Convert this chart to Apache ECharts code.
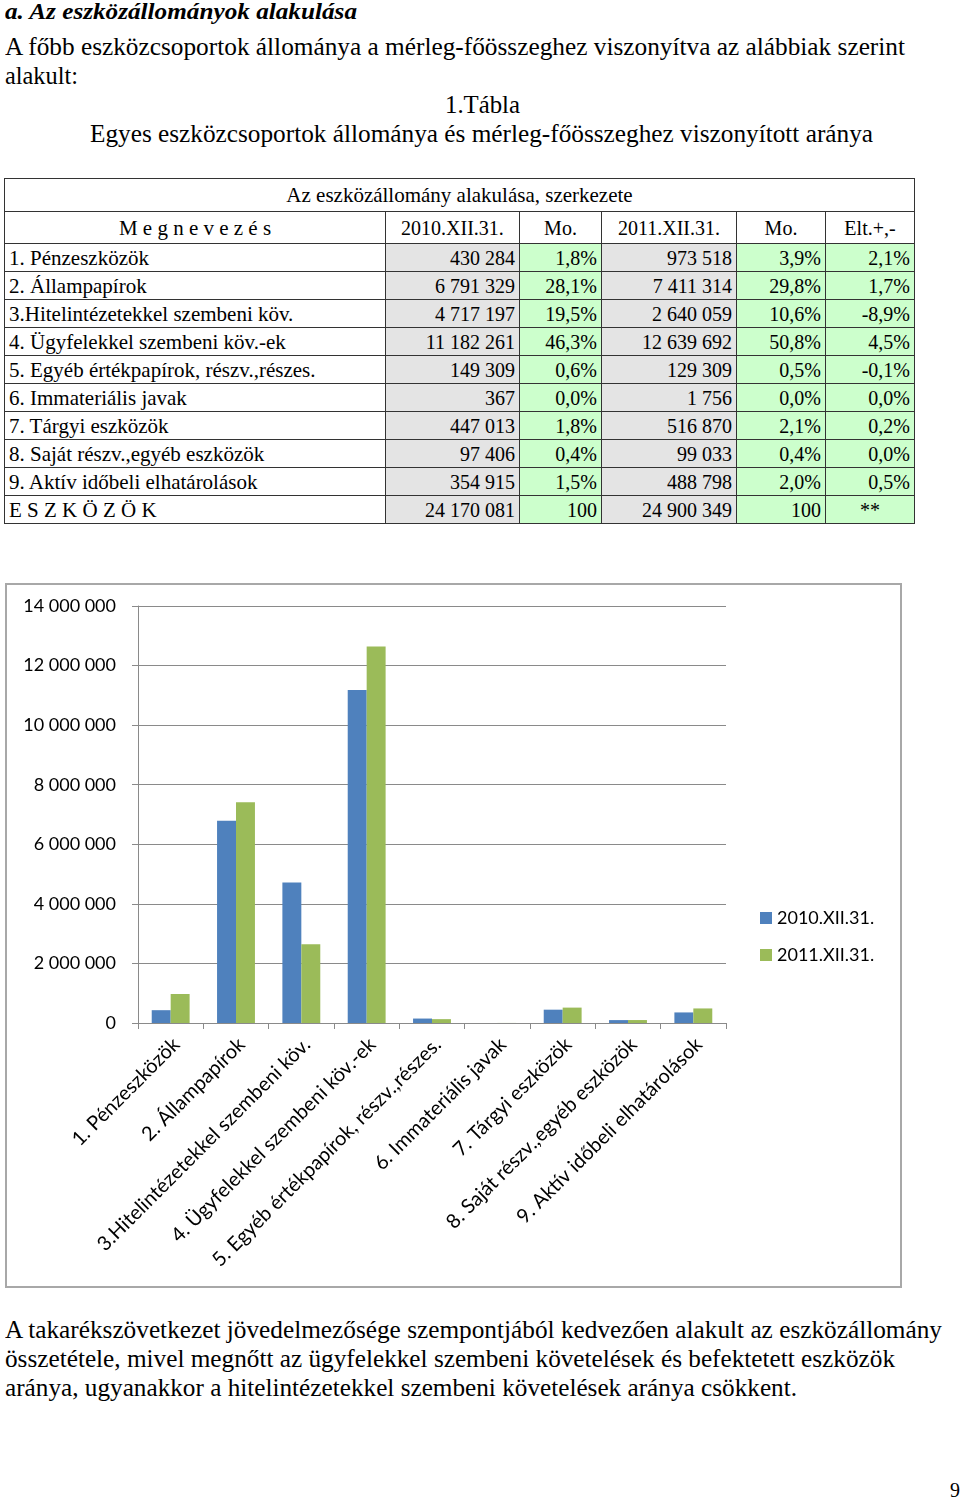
<!DOCTYPE html>
<html><head><meta charset="utf-8">
<script src="https://cdn.jsdelivr.net/npm/echarts@6/dist/echarts.min.js"></script>
<style>
html,body{margin:0;padding:0;background:#fff;}
body{width:960px;height:1499px;position:relative;overflow:hidden;font-family:"Liberation Serif","Times New Roman",serif;color:#000;}
.ln{position:absolute;white-space:nowrap;line-height:30px;height:30px;font-size:25px;transform-origin:0 50%;}
table.t{position:absolute;left:4px;top:178px;border-collapse:collapse;table-layout:fixed;font-size:20px;}
table.t td{border:1px solid #333;padding:0 4px;white-space:nowrap;overflow:hidden;line-height:20px;}
td.g{background:#e4e4e4;text-align:right;}
td.n{background:#ccffcc;text-align:right;}
td.c{text-align:center;}
td.lbl{padding-left:9px;font-size:21px;}
#chart{position:absolute;left:5px;top:583px;width:897px;height:705px;border:2px solid #a8a8a8;box-sizing:border-box;}
</style></head>
<body>
<div id="texts"></div>
<table class="t" id="tbl"></table>
<div id="chart"></div>
<script>
// ---- data ----
const categories = ["1. Pénzeszközök","2. Állampapírok","3.Hitelintézetekkel szembeni köv.","4. Ügyfelekkel szembeni köv.-ek","5. Egyéb értékpapírok, részv.,részes.","6. Immateriális javak","7. Tárgyi eszközök","8. Saját részv.,egyéb eszközök","9. Aktív időbeli elhatárolások"];
const seriesNames = ["2010.XII.31.","2011.XII.31."];
const values2010 = [430284,6791329,4717197,11182261,149309,367,447013,97406,354915];
const values2011 = [973518,7411314,2640059,12639692,129309,1756,516870,99033,488798];
const share2010 = ["1,8%","28,1%","19,5%","46,3%","0,6%","0,0%","1,8%","0,4%","1,5%"];
const share2011 = ["3,9%","29,8%","10,6%","50,8%","0,5%","0,0%","2,1%","0,4%","2,0%"];
const diffs = ["2,1%","1,7%","-8,9%","4,5%","-0,1%","0,0%","0,2%","0,0%","0,5%"];
const totalLabel = "E S Z K Ö Z Ö K";
const total2010 = 24170081, total2011 = 24900349;
const yTicks = [0,2000000,4000000,6000000,8000000,10000000,12000000,14000000];

function fmt(v){return String(v).replace(/\B(?=(\d{3})+(?!\d))/g,' ');}

// ---- text lines ----
const lines = [
 {t:"a. Az eszközállományok alakulása", x:5, y:12, w:352, st:"font-weight:bold;font-style:italic;font-size:23px;"},
 {t:"A főbb eszközcsoportok állománya a mérleg-főösszeghez viszonyítva az alábbiak szerint", x:5, y:47, w:900},
 {t:"alakult:", x:5, y:76, w:73},
 {t:"1.Tábla", x:445, y:105, w:75},
 {t:"Egyes eszközcsoportok állománya és mérleg-főösszeghez viszonyított aránya", x:90, y:134, w:783},
 {t:"A takarékszövetkezet jövedelmezősége szempontjából kedvezően alakult az eszközállomány", x:5, y:1330, w:937},
 {t:"összetétele, mivel megnőtt az ügyfelekkel szembeni követelések és befektetett eszközök", x:5, y:1359, w:890},
 {t:"aránya, ugyanakkor a hitelintézetekkel szembeni követelések aránya csökkent.", x:5, y:1388, w:792},
 {t:"9", x:950, y:1490, w:10, st:"font-size:22px;"}
];
const tc = document.getElementById('texts');
lines.forEach(l=>{
  const d=document.createElement('div');d.className='ln';d.textContent=l.t;
  d.style.cssText += (l.st||'') + 'left:'+l.x+'px;top:'+(l.y-15)+'px;';
  tc.appendChild(d);
  const w=d.getBoundingClientRect().width;
  d.style.transform='scaleX('+(l.w/w)+')';
});

// ---- table ----
const colW=[381,134,82,135,89,89];
const tbl=document.getElementById('tbl');
let h='<colgroup>'+colW.map(w=>'<col style="width:'+w+'px">').join('')+'</colgroup>';
h+='<tr style="height:33px"><td colspan="6" class="c" style="font-size:21px">Az eszközállomány alakulása, szerkezete</td></tr>';
h+='<tr style="height:32px"><td class="c" style="font-size:21px">M e g n e v e z é s</td><td class="c">2010.XII.31.</td><td class="c">Mo.</td><td class="c">2011.XII.31.</td><td class="c">Mo.</td><td class="c">Elt.+,-</td></tr>';
categories.forEach((c,i)=>{
  h+='<tr style="height:28px"><td class="lbl">'+c+'</td><td class="g">'+fmt(values2010[i])+'</td><td class="n">'+share2010[i]+'</td><td class="g">'+fmt(values2011[i])+'</td><td class="n">'+share2011[i]+'</td><td class="n">'+diffs[i]+'</td></tr>';
});
h+='<tr style="height:28px"><td class="lbl">'+totalLabel+'</td><td class="g">'+fmt(total2010)+'</td><td class="n">100</td><td class="g">'+fmt(total2011)+'</td><td class="n">100</td><td class="n" style="text-align:center">**</td></tr>';
tbl.innerHTML=h;

// ---- chart ----
const chart=echarts.init(document.getElementById('chart'));
const F='Lato, "Open Sans", sans-serif';
chart.setOption({
  animation:false,
  textStyle:{fontFamily:F},
  grid:{left:131,top:21,width:588,height:417,containLabel:false},
  legend:{orient:'vertical',left:748,top:319,itemWidth:12,itemHeight:12,itemGap:19,icon:'rect',
    textStyle:{fontSize:18,color:'#000',fontFamily:F},data:seriesNames},
  xAxis:{type:'category',data:categories,
    axisLine:{lineStyle:{color:'#8a8a8a',width:1}},
    axisTick:{show:true,length:6,lineStyle:{color:'#8a8a8a'}},
    axisLabel:{rotate:45,interval:0,fontSize:20,color:'#000',margin:24,padding:[0,-8,0,0],fontFamily:F}},
  yAxis:{type:'value',min:0,max:14000000,interval:2000000,
    axisLine:{show:true,lineStyle:{color:'#8a8a8a'}},
    axisTick:{show:true,length:6,lineStyle:{color:'#8a8a8a'}},
    splitLine:{lineStyle:{color:'#8a8a8a',width:1}},
    axisLabel:{fontSize:18,color:'#000',margin:22,fontFamily:F,formatter:v=>fmt(v)}},
  series:[
    {name:seriesNames[0],type:'bar',data:values2010,barGap:'0%',barCategoryGap:'42%',itemStyle:{color:'#4f81bd'}},
    {name:seriesNames[1],type:'bar',data:values2011,barGap:'0%',barCategoryGap:'42%',itemStyle:{color:'#9bbb59'}}
  ]
});
</script>
</body></html>
